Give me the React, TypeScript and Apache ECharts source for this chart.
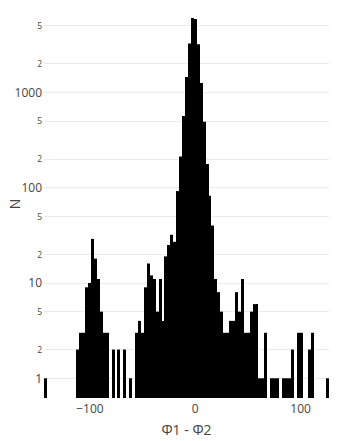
import React, { useEffect, useRef } from "react";
import * as echarts from "echarts";

// Histogram of Φ1 - Φ2 : 97 equal bins
const binStart = -143.6;
const binWidth = 2.789;
const counts: number[] = [
  1, 0, 0, 0, 0, 0, 0, 0, 0, 0,
  0, 2, 3, 3, 9, 10, 29, 18, 11, 5,
  3, 3, 0, 2, 0, 2, 0, 2, 0, 1,
  0, 3, 4, 3, 9, 16, 12, 11, 5, 11,
  4, 19, 25, 32, 27, 92, 212, 564, 1448, 3250,
  6021, 5875, 3200, 1253, 490, 177, 82, 40, 11, 8,
  5, 3, 3, 4, 4, 8, 5, 11, 3, 3,
  5, 6, 6, 1, 1, 3, 0, 1, 1, 1,
  0, 1, 1, 1, 2, 0, 3, 3, 0, 0,
  2, 3, 0, 0, 0, 0, 1,
];
const xTicks = [-100, 0, 100];
const yTicks = [1, 2, 5, 10, 20, 50, 100, 200, 500, 1000, 2000, 5000];
const yMin = 0.621;
const yMax = 7300;

export default function App() {
  const ref = useRef<HTMLDivElement>(null);
  useEffect(() => {
    if (!ref.current) return;
    const chart = echarts.init(ref.current, undefined, { renderer: "svg" });
    const data = counts.map((c, i) => [
      binStart + i * binWidth,
      binStart + (i + 1) * binWidth,
      c,
    ]);
    const font = "'Open Sans', Verdana, Arial, sans-serif";
    chart.setOption({
      animation: false,
      textStyle: { fontFamily: font },
      grid: {
        left: 44,
        right: 8,
        top: 10,
        bottom: 43,
        containLabel: false,
        outerBoundsMode: "none",
      },
      xAxis: {
        type: "value",
        min: binStart,
        max: binStart + counts.length * binWidth,
        name: "Φ1 - Φ2",
        nameLocation: "middle",
        nameGap: 24,
        nameTextStyle: { fontSize: 14, color: "#444", fontFamily: font },
        axisLine: { show: false },
        axisTick: { show: false, customValues: xTicks },
        splitLine: { show: false },
        axisLabel: {
          customValues: xTicks,
          margin: 4,
          fontSize: 12,
          color: "#444",
          fontFamily: font,
          formatter: (v: number) =>
            v < 0 ? "\u2212" + Math.abs(Math.round(v)) : String(Math.round(v)),
        },
      },
      yAxis: {
        type: "log",
        logBase: 10,
        min: yMin,
        max: yMax,
        name: "N",
        nameLocation: "middle",
        nameGap: 23,
        nameMoveOverlap: false,
        nameTextStyle: { fontSize: 14, color: "#444", fontFamily: font },
        axisLine: { show: false },
        axisTick: { show: false, customValues: yTicks },
        splitLine: { show: true, lineStyle: { color: "#ebebeb", width: 1 } },
        axisLabel: {
          customValues: yTicks,
          margin: 2,
          color: "#444",
          fontFamily: font,
          formatter: (v: number) => {
            const r = Math.round(v);
            const s = String(r);
            if (s[0] === "1") return "{b|" + s + "}";
            return "{s|" + s[0] + "}";
          },
          rich: {
            b: { fontSize: 12, color: "#444", fontFamily: font },
            s: { fontSize: 8.5, color: "#444", fontFamily: font },
          },
        },
      },
      series: [
        {
          type: "custom",
          encode: { x: [0, 1], y: 2 },
          data,
          renderItem: (params: any, api: any) => {
            const v = api.value(2);
            if (!v) return null;
            const p0 = api.coord([api.value(0), v]);
            const p1 = api.coord([api.value(1), yMin]);
            const x = Math.round(p0[0]);
            const w = Math.round(p1[0]) - x;
            return {
              type: "rect",
              shape: { x, y: p0[1], width: w, height: p1[1] - p0[1] },
              style: { fill: "#000" },
            };
          },
        },
      ],
    });
    return () => chart.dispose();
  }, []);
  return (
    <div
      ref={ref}
      style={{ position: "fixed", left: 0, top: 0, width: 337, height: 441, background: "#fff" }}
    />
  );
}
